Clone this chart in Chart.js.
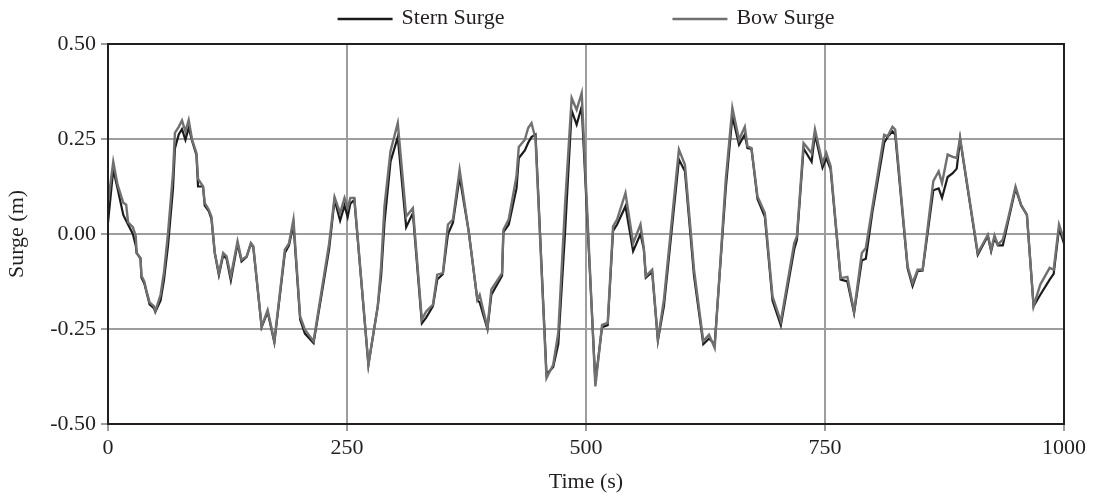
<!DOCTYPE html>
<html>
<head>
<meta charset="utf-8">
<title>Surge</title>
<script src="https://cdn.jsdelivr.net/npm/chart.js@4.4.1/dist/chart.umd.min.js"></script>
<style>
  body { margin: 0; background: #fff; }
</style>
</head>
<body>
<canvas id="surgeChart" width="1094" height="499"></canvas>
<script>
// Values (time in s, surge in m)
const times = [
  0, 5.5, 10, 16, 19, 21, 26, 29, 30, 34, 35, 38, 40, 43.5, 48, 49.5, 55, 58.6, 62.8, 68,
  70, 74, 77.4, 81, 84.4, 88, 92.5, 94.2, 99.4, 101.2, 105.4, 108.2, 111.7, 116, 120.5, 124, 128.5, 135.5, 139.7, 145,
  149.5, 152, 160.7, 167, 174, 185, 189.3, 194, 201, 206, 215, 231.3, 237, 242.8, 247.4, 250.7, 253.5, 257.7, 272.4, 282.2,
  285.7, 289.2, 295.5, 303.1, 311.9, 318.9, 328.3, 332.8, 339.9, 344.4, 350.3, 355.6, 360.8, 367.8, 377.3, 386.4, 388.8, 396.9, 401, 412.2,
  413.6, 419.2, 427.3, 429.7, 436, 439.5, 443, 447.2, 458.7, 465.7, 471, 478, 485, 490.2, 495.5, 509.8, 516.8, 522.7, 528.3, 532.5,
  541.3, 549.3, 557, 560.5, 562.6, 569.2, 575.2, 581.5, 597.2, 603.5, 613, 622.7, 628.7, 634.6, 646.2, 653.1, 660.1, 666.1, 668.9, 673.1,
  679.4, 687.1, 695.1, 703.8, 717.8, 720.6, 727.6, 736, 739.5, 747.4, 751.4, 755.9, 766.4, 773.4, 780.4, 788.5, 792.7, 799.7, 811.9, 815.4,
  820.6, 823.4, 836.4, 841.6, 846.9, 852.1, 863.3, 868.9, 872.4, 878.3, 883.6, 887.8, 891.3, 909.8, 920.3, 923.8, 927.3, 930.8, 936, 941.3,
  949.3, 955.2, 961.2, 968.2, 975.2, 985, 989.2, 994.8, 1000
];
const bowSurge = [
  0.08, 0.19, 0.13, 0.082, 0.077, 0.031, 0.018, -0.005, -0.05, -0.063, -0.11, -0.125, -0.147, -0.18, -0.19, -0.203, -0.16, -0.10, 0.003, 0.16,
  0.266, 0.282, 0.299, 0.27, 0.30, 0.248, 0.213, 0.145, 0.125, 0.082, 0.064, 0.046, -0.05, -0.103, -0.05, -0.059, -0.111, -0.019, -0.068, -0.059,
  -0.024, -0.032, -0.243, -0.20, -0.282, -0.041, -0.025, 0.038, -0.217, -0.252, -0.282, -0.025, 0.097, 0.055, 0.095, 0.068, 0.095, 0.095, -0.344, -0.19,
  -0.085, 0.073, 0.218, 0.292, 0.046, 0.068, -0.225, -0.204, -0.186, -0.107, -0.103, 0.025, 0.038, 0.169, 0.007, -0.173, -0.16, -0.247, -0.146, -0.103,
  0.011, 0.039, 0.152, 0.229, 0.248, 0.279, 0.292, 0.25, -0.379, -0.344, -0.26, 0.073, 0.358, 0.327, 0.371, -0.401, -0.239, -0.234, 0.02, 0.038,
  0.108, -0.024, 0.025, -0.037, -0.111, -0.094, -0.278, -0.173, 0.222, 0.182, -0.094, -0.282, -0.265, -0.30, 0.143, 0.332, 0.248, 0.282, 0.231, 0.226,
  0.099, 0.055, -0.164, -0.23, -0.024, -0.006, 0.239, 0.213, 0.275, 0.187, 0.213, 0.178, -0.116, -0.113, -0.204, -0.05, -0.037, 0.073, 0.261, 0.257,
  0.282, 0.275, -0.085, -0.129, -0.094, -0.094, 0.139, 0.165, 0.134, 0.209, 0.203, 0.2, 0.253, -0.05, -0.002, -0.041, -0.004, -0.028, -0.015, 0.038,
  0.125, 0.077, 0.051, -0.19, -0.133, -0.089, -0.094, 0.025, -0.015
];
const sternSurge = [
  0.03, 0.17, 0.12, 0.05, 0.035, 0.025, 0.0, -0.03, -0.05, -0.065, -0.115, -0.13, -0.15, -0.185, -0.195, -0.205, -0.175, -0.12, -0.03, 0.12,
  0.225, 0.262, 0.276, 0.248, 0.28, 0.245, 0.208, 0.125, 0.125, 0.075, 0.06, 0.04, -0.05, -0.108, -0.055, -0.065, -0.122, -0.025, -0.072, -0.06,
  -0.025, -0.035, -0.245, -0.205, -0.285, -0.05, -0.03, 0.025, -0.225, -0.262, -0.287, -0.04, 0.09, 0.035, 0.075, 0.045, 0.08, 0.09, -0.344, -0.19,
  -0.11, 0.03, 0.19, 0.255, 0.018, 0.055, -0.235, -0.22, -0.19, -0.12, -0.105, 0.0, 0.03, 0.15, 0.007, -0.175, -0.18, -0.25, -0.16, -0.11,
  0.005, 0.025, 0.12, 0.2, 0.22, 0.24, 0.255, 0.262, -0.37, -0.35, -0.29, 0.0, 0.325, 0.288, 0.335, -0.39, -0.245, -0.24, 0.008, 0.025,
  0.073, -0.045, 0.0, -0.04, -0.115, -0.1, -0.28, -0.19, 0.196, 0.165, -0.11, -0.29, -0.275, -0.29, 0.12, 0.31, 0.235, 0.262, 0.226, 0.224,
  0.092, 0.045, -0.175, -0.24, -0.04, -0.015, 0.225, 0.19, 0.262, 0.175, 0.2, 0.17, -0.12, -0.125, -0.208, -0.07, -0.065, 0.06, 0.24, 0.255,
  0.27, 0.262, -0.09, -0.137, -0.098, -0.096, 0.115, 0.12, 0.095, 0.15, 0.16, 0.172, 0.25, -0.055, -0.005, -0.045, -0.01, -0.03, -0.03, 0.03,
  0.12, 0.075, 0.05, -0.19, -0.16, -0.12, -0.105, 0.015, -0.025
];
const xTicks = [0, 250, 500, 750, 1000];
const yTicks = [-0.5, -0.25, 0, 0.25, 0.5];

const ink = '#231f20';
const gridGrey = '#9d9d9d';
Chart.defaults.font.family = "'Liberation Serif', 'Times New Roman', serif";
Chart.defaults.font.size = 22;
Chart.defaults.color = ink;

// black box round the plot area
const framePlugin = {
  id: 'frame',
  afterDraw(chart) {
    const { ctx, chartArea: a } = chart;
    ctx.save();
    ctx.strokeStyle = ink;
    ctx.lineWidth = 2;
    ctx.strokeRect(a.left, a.top, a.right - a.left, a.bottom - a.top);
    ctx.restore();
  }
};

// legend with line samples, centred over the plot area
const lineLegend = {
  id: 'lineLegend',
  afterDraw(chart) {
    const { ctx, chartArea: a } = chart;
    const sample = 55, gap = 9, between = 168, y = 19;
    ctx.save();
    ctx.font = "22px 'Liberation Serif', 'Times New Roman', serif";
    ctx.textBaseline = 'middle';
    const sets = chart.data.datasets;
    const widths = sets.map(ds => ctx.measureText(ds.label).width);
    let total = between * (sets.length - 1);
    widths.forEach(w => total += sample + gap + w);
    let x = (a.left + a.right) / 2 - total / 2;
    sets.forEach((ds, i) => {
      ctx.strokeStyle = ds.borderColor;
      ctx.lineWidth = 2.5;
      ctx.beginPath();
      ctx.moveTo(x, y);
      ctx.lineTo(x + sample, y);
      ctx.stroke();
      ctx.fillStyle = ink;
      ctx.fillText(ds.label, x + sample + gap, y - 1);
      x += sample + gap + widths[i] + between;
    });
    ctx.restore();
  }
};

const ctx = document.getElementById('surgeChart').getContext('2d');
new Chart(ctx, {
  type: 'line',
  data: {
    datasets: [{
      label: 'Stern Surge',
      data: times.map((t, i) => ({ x: t, y: sternSurge[i] })),
      borderColor: '#1c1a1b',
      borderWidth: 2.2,
      order: 1
    }, {
      label: 'Bow Surge',
      data: times.map((t, i) => ({ x: t, y: bowSurge[i] })),
      borderColor: '#707070',
      borderWidth: 2.4,
      order: 0
    }]
  },
  options: {
    responsive: false,
    devicePixelRatio: 1,
    animation: false,
    pointRadius: 0,
    tension: 0,
    layout: { padding: { top: 44, right: 30, left: 0, bottom: 0 } },
    plugins: {
      legend: { display: false },
      tooltip: { enabled: false }
    },
    elements: { point: { radius: 0 }, line: { tension: 0 } },
    scales: {
      x: {
        type: 'linear',
        min: 0,
        max: 1000,
        afterBuildTicks: axis => { axis.ticks = xTicks.map(v => ({ value: v })); },
        afterFit: axis => { axis.height = 75; },
        ticks: { padding: 4, maxRotation: 0, callback: v => String(v) },
        grid: { color: gridGrey, lineWidth: 2, tickLength: 7, tickColor: gridGrey },
        border: { display: false },
        title: { display: true, text: 'Time (s)' }
      },
      y: {
        min: -0.5,
        max: 0.5,
        afterBuildTicks: axis => { axis.ticks = yTicks.map(v => ({ value: v })); },
        afterFit: axis => { axis.width = 108; },
        ticks: { padding: 5, callback: v => v.toFixed(2) },
        grid: { color: gridGrey, lineWidth: 2, tickLength: 7, tickColor: gridGrey },
        border: { display: false },
        title: { display: true, text: 'Surge (m)' }
      }
    }
  },
  plugins: [framePlugin, lineLegend]
});
</script>
</body>
</html>
